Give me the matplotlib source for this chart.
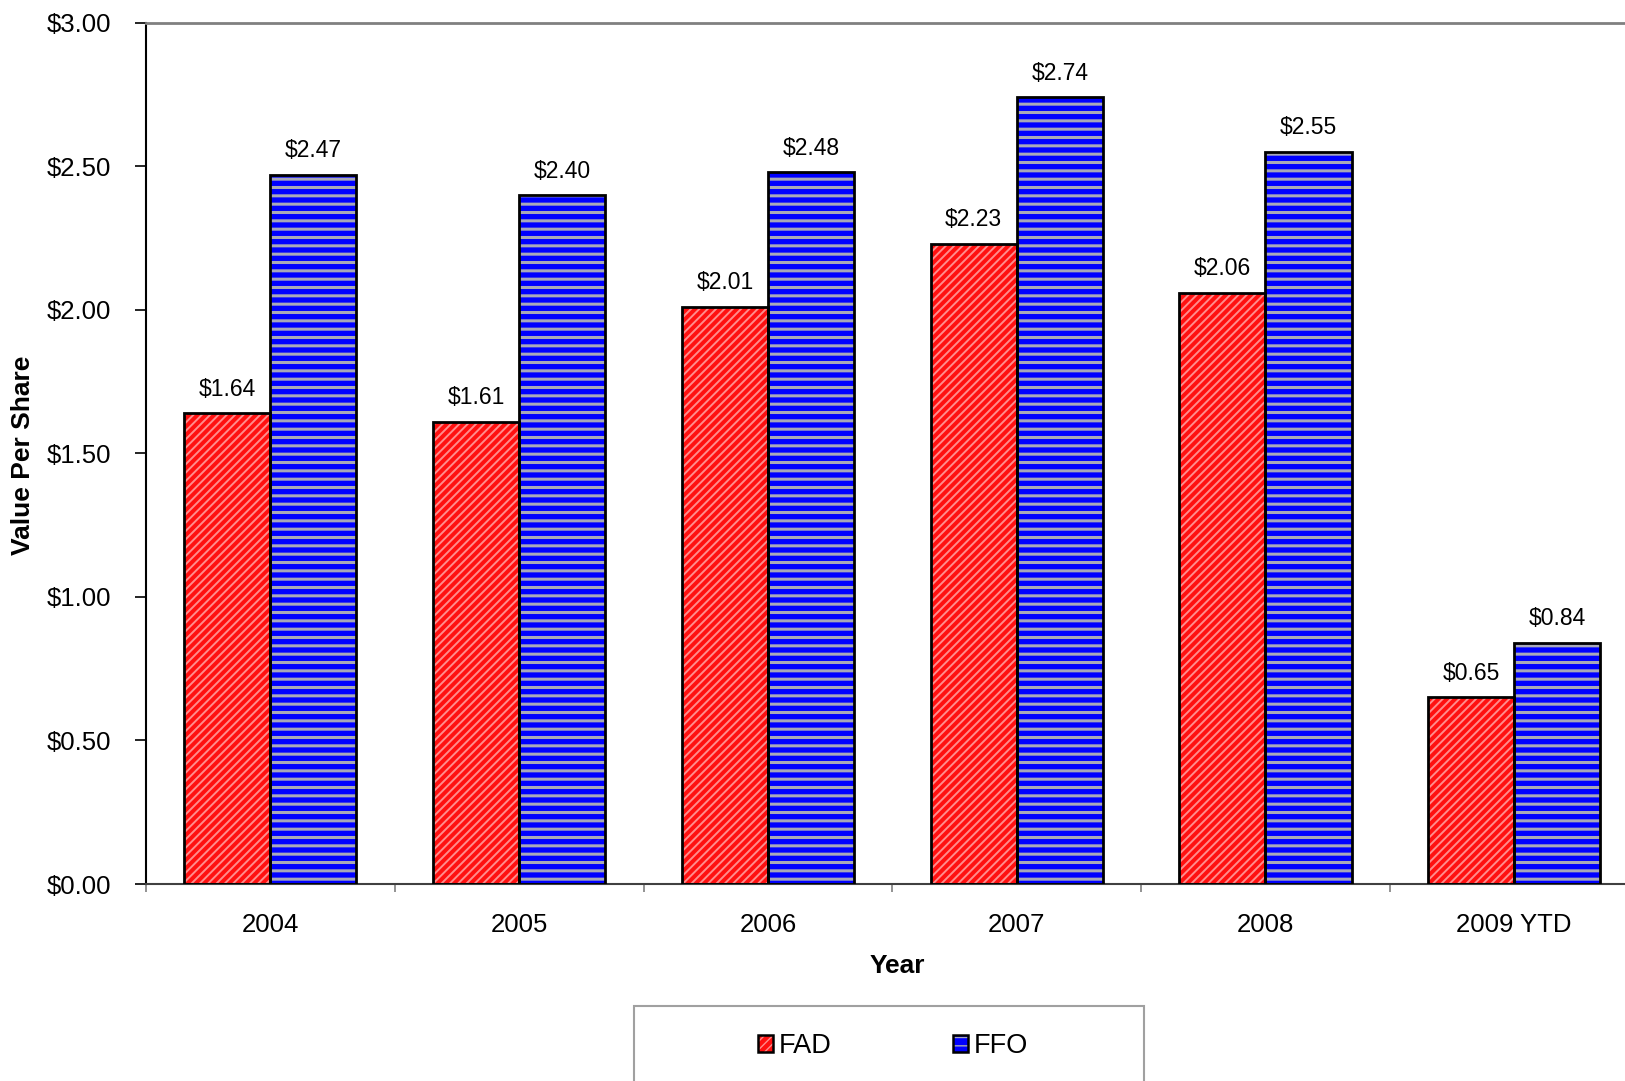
import matplotlib
matplotlib.use("Agg")
import matplotlib.pyplot as plt
from matplotlib.patches import Patch, Rectangle
from matplotlib.legend_handler import HandlerTuple
import numpy as np

plt.rcParams['font.family'] = ['Liberation Sans', 'DejaVu Sans']

years = ["2004", "2005", "2006", "2007", "2008", "2009 YTD"]
fad = [1.64, 1.61, 2.01, 2.23, 2.06, 0.65]
ffo = [2.47, 2.40, 2.48, 2.74, 2.55, 0.84]
yticks = [0.0, 0.5, 1.0, 1.5, 2.0, 2.5, 3.0]
series_names = ["FAD", "FFO"]

W, H = 1625, 1081
fig = plt.figure(figsize=(W / 100, H / 100), dpi=100)
ax = fig.add_axes([146 / W, 1 - 884 / H, (1638.6 - 146) / W, (884 - 22.8) / H])

x = np.arange(len(years))
bw = 0.346

red, red_h = '#ff1010', '#ff8c8c'
blue, blue_h = '#0000ff', '#a8a8b8'

with plt.rc_context({'hatch.linewidth': 1.4}):
    b1 = ax.bar(x - bw / 2, fad, bw, color=red, edgecolor=red_h, hatch='////', linewidth=0, zorder=2)
with plt.rc_context({'hatch.linewidth': 2.2}):
    b2 = ax.bar(x + bw / 2, ffo, bw, color=blue, edgecolor=blue_h, hatch='--', linewidth=0, zorder=2)
ax.bar(x - bw / 2, fad, bw, fill=False, edgecolor='black', linewidth=2, zorder=3)
ax.bar(x + bw / 2, ffo, bw, fill=False, edgecolor='black', linewidth=2, zorder=3)

for xs, vals in ((x - bw / 2, fad), (x + bw / 2, ffo)):
    for xi, v in zip(xs, vals):
        ax.annotate(f"${v:.2f}", (xi, v), xytext=(0, 9), textcoords='offset points',
                    ha='center', va='bottom', fontsize=16.5, color='black')

ax.set_xlim(-0.5, len(years) - 0.5)
ax.set_ylim(0, 3.0)
ax.set_yticks(yticks)
ax.set_yticklabels([f"${t:.2f}" for t in yticks])
ax.tick_params(axis='y', direction='out', length=8, width=1.2, color='black',
               labelsize=18.5, pad=17)
ax.set_xticks(x)
ax.set_xticklabels(years)
ax.tick_params(axis='x', which='major', length=0, labelsize=18.5, pad=21)
ax.set_xticks(np.arange(-0.5, len(years) + 0.5, 1), minor=True)
ax.tick_params(axis='x', which='minor', direction='out', length=6, width=1.2, color='#808080')

ax.spines['left'].set_color('black')
ax.spines['left'].set_linewidth(1.5)
ax.spines['bottom'].set_color('#404040')
ax.spines['bottom'].set_linewidth(1.5)
ax.spines['top'].set_color('#808080')
ax.spines['top'].set_linewidth(2)
ax.spines['right'].set_visible(False)

fig.text(23 / W, 1 - 455 / H, "Value Per Share", rotation=90, ha='center', va='center',
         fontsize=19, fontweight='bold')
fig.text(897 / W, 1 - 966 / H, "Year", ha='center', va='center',
         fontsize=19, fontweight='bold')

# legend frame
fig.patches.append(Rectangle((634 / W, -0.05), (1144 - 634) / W, 0.05 + (1 - 1006 / H),
                             transform=fig.transFigure, facecolor='white',
                             edgecolor='#a0a0a0', linewidth=1.5))

with plt.rc_context({'hatch.linewidth': 1.0}):
    h1 = Patch(facecolor=red, edgecolor=red_h, hatch='////', linewidth=0)
with plt.rc_context({'hatch.linewidth': 2.0}):
    h2 = Patch(facecolor=blue, edgecolor=blue_h, hatch='--', linewidth=0)
o1 = Patch(fill=False, edgecolor='black', linewidth=1.8)
o2 = Patch(fill=False, edgecolor='black', linewidth=1.8)
fig.legend([(h1, o1), (h2, o2)], series_names, ncol=2, loc='center',
           bbox_to_anchor=(893 / W, 1 - 1046 / H), frameon=False,
           fontsize=19.5, handlelength=0.55, handleheight=0.55, handletextpad=0.2,
           columnspacing=4.5, handler_map={tuple: HandlerTuple(ndivide=1, pad=0)})

fig.savefig("out.png", dpi=100)
